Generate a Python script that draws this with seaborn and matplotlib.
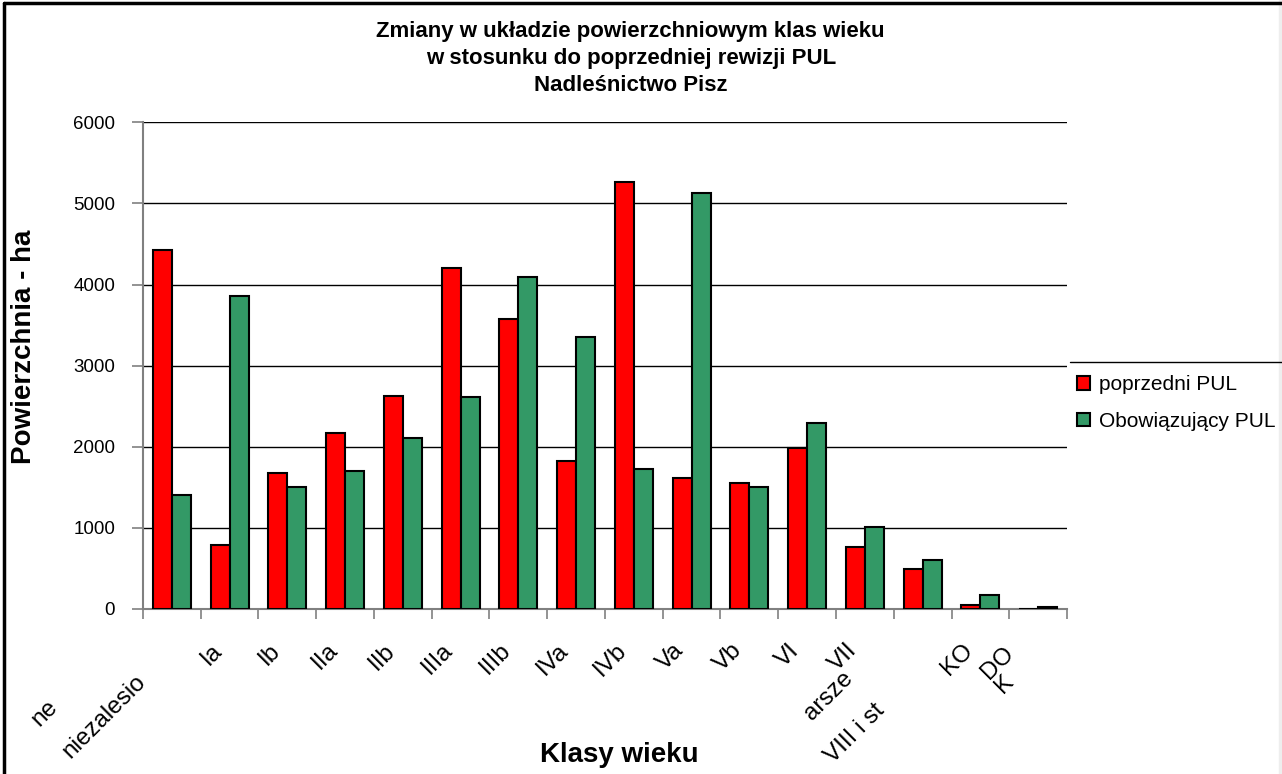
import numpy as np
import pandas as pd
import seaborn as sns
import matplotlib.pyplot as plt
from matplotlib.lines import Line2D
from matplotlib.patches import Rectangle
from matplotlib.transforms import ScaledTranslation

# Dane
klasy = ["niezalesione", "Ia", "Ib", "IIa", "IIb", "IIIa", "IIIb", "IVa",
         "IVb", "Va", "Vb", "VI", "VII", "VIII i starsze", "KO", "KDO"]
etykiety = ["ne\nniezalesio", "Ia", "Ib", "IIa", "IIb", "IIIa", "IIIb", "IVa",
            "IVb", "Va", "Vb", "VI", "VII", "arsze\nVIII i st", "KO", "DO\nK"]
poprzedni = [4430, 790, 1680, 2170, 2630, 4205, 3570, 1820,
             5270, 1620, 1550, 1980, 765, 490, 50, 0]
obowiazujacy = [1400, 3860, 1500, 1700, 2110, 2610, 4090, 3350,
                1720, 5130, 1500, 2290, 1005, 610, 170, 25]
serie = ["poprzedni PUL", "Obowiązujący PUL"]
kolory = ["#FF0000", "#339966"]

df = pd.DataFrame({
    "klasa": klasy * 2,
    "pow": poprzedni + obowiazujacy,
    "seria": [serie[0]] * len(klasy) + [serie[1]] * len(klasy),
})

sns.set_style("white")
plt.rcParams['font.family'] = ['Liberation Sans', 'DejaVu Sans']
plt.rcParams['text.color'] = 'black'
plt.rcParams['axes.labelcolor'] = 'black'
plt.rcParams['xtick.color'] = 'black'
plt.rcParams['ytick.color'] = 'black'

fig, ax = plt.subplots(figsize=(12.82, 7.74), dpi=100)
fig.subplots_adjust(left=0.1115, right=0.8323, bottom=0.2132, top=0.842)

sns.barplot(data=df, x="klasa", y="pow", hue="seria", order=klasy,
            hue_order=serie, palette=kolory, width=0.66, gap=0, saturation=1,
            edgecolor="black", linewidth=1.5, ax=ax, zorder=3)

handles, labels = ax.get_legend_handles_labels()
ax.get_legend().remove()

ax.set_xlim(-0.5, len(klasy) - 0.5)
ax.set_ylim(0, 6000)
ax.set_yticks(range(0, 6001, 1000))
ax.yaxis.grid(True, color="black", lw=1)
ax.set_axisbelow(True)

for s in ["top", "right"]:
    ax.spines[s].set_visible(False)
for s in ["left", "bottom"]:
    ax.spines[s].set_color("#808080")
    ax.spines[s].set_linewidth(1.5)

ax.tick_params(axis="y", length=8, color="#808080", width=1.2, pad=12,
               labelsize=13.5, left=True)
ax.set_xticks(np.arange(len(klasy) + 1) - 0.5, minor=True)
ax.tick_params(axis="x", which="minor", length=7, color="#808080", width=1.2,
               bottom=True)
ax.set_xticks(range(len(klasy)))
ax.set_xticklabels(etykiety, rotation=45, ha="right", va="center",
                   rotation_mode="anchor", fontsize=17.5)
ax.tick_params(axis="x", which="major", length=0, pad=27.5)

# etykiety wielowierszowe: przesuniecie wzdluz / w poprzek tekstu (px),
# interlinia, wyrownanie
wielowierszowe = {0: (-35, -13, 2.35, "left"), 13: (-64, -2, 2.35, "right"),
                  15: (-14, 0, 0.85, "left")}
for i, lbl in enumerate(ax.get_xticklabels()):
    du, dv = 0, 0
    if i in wielowierszowe:
        du, dv, ls, ma = wielowierszowe[i]
        lbl.set_linespacing(ls)
        lbl.set_multialignment(ma)
    dx = -11 + 0.707 * (du + dv)
    dy = 0.707 * (du - dv)
    lbl.set_transform(lbl.get_transform() + ScaledTranslation(
        dx / 100, dy / 100, fig.dpi_scale_trans))

ax.set_xlabel("Klasy wieku", fontsize=20, fontweight="bold")
ax.set_ylabel("Powierzchnia - ha", fontsize=20, fontweight="bold")
ax.xaxis.set_label_coords(0.516, -0.273)
ax.yaxis.set_label_coords(-0.115, 0.538)

fig.text(0.492, 1 - 58.5 / 774,
         "Zmiany w układzie powierzchniowym klas wieku\n"
         "w stosunku do poprzedniej rewizji PUL\nNadleśnictwo Pisz",
         ha="center", va="center", fontsize=16, fontweight="bold",
         linespacing=1.4)

leg = fig.legend(handles, labels, loc="upper left",
                 bbox_to_anchor=(1070 / 1282, 1 - 368 / 774),
                 fontsize=15, frameon=False,
                 handlelength=0.62, handleheight=0.62, handletextpad=0.4,
                 borderpad=0.35, labelspacing=0.84, borderaxespad=0)

# ramka legendy (widoczna tylko gorna krawedz) i ramka wykresu
fig.lines.append(Line2D([1070 / 1282, 1], [1 - 362 / 774] * 2,
                        transform=fig.transFigure, color="black", lw=1))
fig.lines.append(Line2D([0.0035, 1], [0.9965, 0.9965],
                        transform=fig.transFigure, color="black", lw=2.5))
fig.lines.append(Line2D([0.0035, 0.0035], [0, 0.9965],
                        transform=fig.transFigure, color="black", lw=2.5))
fig.patches.append(Rectangle((1 - 3 / 1282, 0), 3 / 1282, 1,
                             transform=fig.transFigure, color="#EEEEEE"))

plt.savefig("out.png", dpi=100)
